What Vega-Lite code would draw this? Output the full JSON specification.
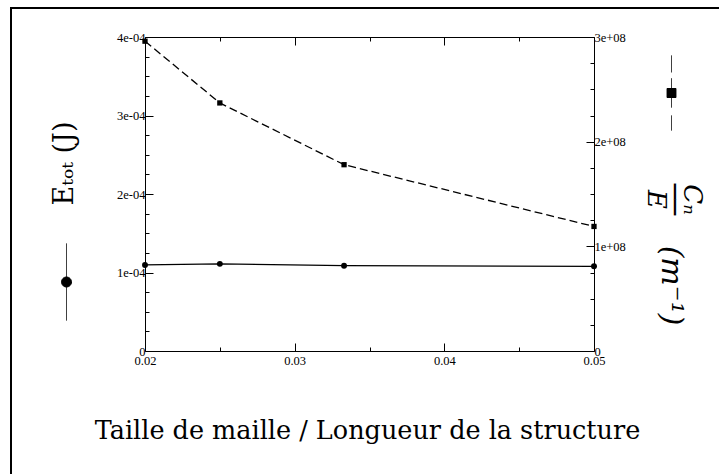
{
  "$schema": "https://vega.github.io/schema/vega-lite/v6.json",
  "width": 712,
  "height": 470,
  "autosize": {"type": "none"},
  "padding": {"left": 11, "top": 8, "right": -4, "bottom": -4},
  "background": "white",
  "config": {
    "view": {"stroke": "black", "strokeWidth": 2},
    "axis": {
      "grid": false,
      "domainColor": "black",
      "domainWidth": 1,
      "tickColor": "black",
      "tickWidth": 1,
      "labelColor": "black",
      "labelFont": "Liberation Serif",
      "labelFontSize": 12.5,
      "labelFlush": false,
      "labelOverlap": false,
      "titleColor": "black",
      "titleFontWeight": "normal",
      "titleFont": "DejaVu Serif",
      "titleFontSize": 27
    }
  },
  "data": {
    "values": [
      {"taille": 0.02, "etot": 0.0001096, "cne": 296000000},
      {"taille": 0.025, "etot": 0.000111, "cne": 237000000},
      {"taille": 0.0333, "etot": 0.0001087, "cne": 178000000},
      {"taille": 0.05, "etot": 0.0001079, "cne": 119000000}
    ]
  },
  "layer": [
    {
      "mark": {"type": "line", "strokeWidth": 1.3, "point": {"filled": true, "size": 35, "color": "black"}},
      "encoding": {
        "x": {
          "field": "taille",
          "type": "quantitative",
          "scale": {"domain": [0.02, 0.05], "range": [134, 583], "nice": false, "zero": false},
          "axis": {
            "orient": "bottom",
            "offset": -127,
            "values": [0.02, 0.025, 0.03, 0.035, 0.04, 0.045, 0.05],
            "labelExpr": "abs(datum.value*100 - round(datum.value*100)) < 0.01 ? format(datum.value, '.2f') : ''",
            "tickSize": {"condition": {"test": "abs(datum.value*100 - round(datum.value*100)) < 0.01", "value": -8}, "value": -4},
            "labelPadding": 11,
            "title": "Taille de maille / Longueur de la structure",
            "titleFontSize": 25.5,
            "titleX": 356,
            "titleY": 87,
            "titleAlign": "center",
            "titleBaseline": "alphabetic",
            "titleAnchor": null
          }
        },
        "y": {
          "field": "etot",
          "type": "quantitative",
          "scale": {"domain": [0, 0.0004], "range": [343, 29], "nice": false},
          "axis": {
            "orient": "left",
            "offset": -134,
            "values": [0, 0.000025, 0.00005, 0.000075, 0.0001, 0.000125, 0.00015, 0.000175, 0.0002, 0.000225, 0.00025, 0.000275, 0.0003, 0.000325, 0.00035, 0.000375, 0.0004],
            "labelExpr": "abs(datum.value*1e4 - round(datum.value*1e4)) < 0.01 ? (datum.value == 0 ? '0' : round(datum.value*1e4) + 'e-04') : ''",
            "tickSize": {"condition": {"test": "abs(datum.value*1e4 - round(datum.value*1e4)) < 0.01", "value": -8}, "value": -4},
            "labelPadding": 8,
            "title": "Eₜₒₜ (J)",
            "titleX": -81,
            "titleY": 155,
            "titleAngle": -90,
            "titleAlign": "center",
            "titleBaseline": "middle"
          }
        },
        "color": {
          "datum": "Etot",
          "scale": {"range": ["black"]},
          "legend": {
            "orient": "none",
            "legendX": 16.5,
            "legendY": 235,
            "title": null,
            "padding": 0,
            "labelExpr": "''",
            "symbolType": "M0,-1V1M0.13,0A0.13,0.13 0 1,1 -0.13,0A0.13,0.13 0 1,1 0.13,0Z",
            "symbolSize": 5929,
            "symbolStrokeWidth": 1,
            "symbolStrokeColor": "black",
            "symbolFillColor": "black",
            "symbolDash": [1, 0]
          }
        }
      }
    },
    {
      "mark": {"type": "line", "strokeWidth": 1.3, "strokeDash": [8, 4], "point": {"filled": true, "size": 28, "shape": "square", "color": "black"}},
      "encoding": {
        "x": {
          "field": "taille",
          "type": "quantitative",
          "scale": {"domain": [0.02, 0.05], "range": [134, 583], "nice": false, "zero": false},
          "axis": {
            "orient": "top",
            "offset": -29,
            "values": [0.02, 0.025, 0.03, 0.035, 0.04, 0.045, 0.05],
            "labels": false,
            "tickSize": {"condition": {"test": "abs(datum.value*100 - round(datum.value*100)) < 0.01", "value": -8}, "value": -4},
            "title": ["Cₙ", "──", "E"],
            "titleFontStyle": "italic",
            "titleFontSize": 26,
            "titleLineHeight": 18,
            "titleX": 680,
            "titleY": 162,
            "titleAngle": 90,
            "titleAlign": "center",
            "titleBaseline": "middle",
            "titleAnchor": null
          }
        },
        "y": {
          "field": "cne",
          "type": "quantitative",
          "scale": {"domain": [0, 300000000], "range": [343, 29], "nice": false},
          "axis": {
            "orient": "right",
            "offset": -129,
            "values": [0, 25000000, 50000000, 75000000, 100000000, 125000000, 150000000, 175000000, 200000000, 225000000, 250000000, 275000000, 300000000],
            "labelExpr": "abs(datum.value/1e8 - round(datum.value/1e8)) < 0.01 ? (datum.value == 0 ? '0' : round(datum.value/1e8) + 'e+08') : ''",
            "tickSize": {"condition": {"test": "abs(datum.value/1e8 - round(datum.value/1e8)) < 0.01", "value": -8}, "value": -4},
            "labelPadding": 8,
            "title": "(m⁻¹)",
            "titleFontStyle": "italic",
            "titleFontSize": 30,
            "titleX": 76,
            "titleY": 277,
            "titleAngle": 90,
            "titleAlign": "center",
            "titleBaseline": "middle"
          }
        },
        "color": {
          "datum": "CNE",
          "scale": {"range": ["black"]},
          "legend": {
            "orient": "none",
            "legendX": 622.5,
            "legendY": 47,
            "title": null,
            "padding": 0,
            "labelExpr": "''",
            "symbolType": "M0,-1V-0.55M0,-0.39V0.39M0,0.6V1M-0.12,-0.12H0.12V0.12H-0.12Z",
            "symbolSize": 5625,
            "symbolStrokeWidth": 1,
            "symbolStrokeColor": "black",
            "symbolFillColor": "black",
            "symbolDash": [1, 0]
          }
        }
      }
    }
  ],
  "resolve": {
    "scale": {"y": "independent", "color": "independent"},
    "axis": {"x": "independent", "y": "independent"},
    "legend": {"color": "independent"}
  }
}
